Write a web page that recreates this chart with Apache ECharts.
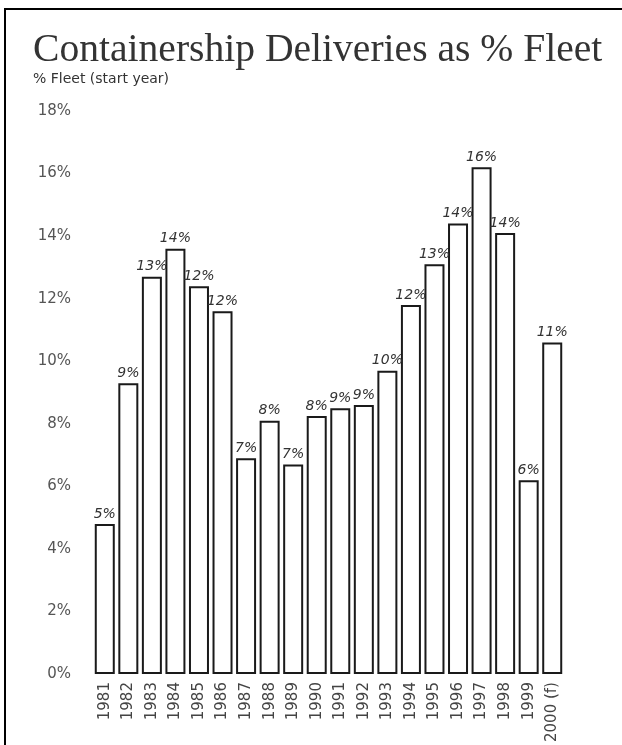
<!DOCTYPE html>
<html>
<head>
<meta charset="utf-8">
<script src="https://cdn.jsdelivr.net/npm/echarts@6/dist/echarts.min.js"></script>
<style>html,body{margin:0;padding:0;background:#fff}#c{width:622px;height:745px}</style>
</head>
<body>
<div id="c"></div>
<script>
var years = ['1981','1982','1983','1984','1985','1986','1987','1988','1989','1990','1991','1992','1993','1994','1995','1996','1997','1998','1999','2000 (f)'];
var values = [4.8, 9.3, 12.7, 13.6, 12.4, 11.6, 6.9, 8.1, 6.7, 8.25, 8.5, 8.6, 9.7, 11.8, 13.1, 14.4, 16.2, 14.1, 6.2, 10.6];
var labels = ['5%','9%','13%','14%','12%','12%','7%','8%','7%','8%','9%','9%','10%','12%','13%','14%','16%','14%','6%','11%'];
var yTicks = ['0%','2%','4%','6%','8%','10%','12%','14%','16%','18%'];

var chart = echarts.init(document.getElementById('c'));
chart.setOption({
  backgroundColor: '#fff',
  animation: false,
  title: [{
    text: 'Containership Deliveries as % Fleet',
    left: 33, top: 31, padding: 0,
    textStyle: {fontFamily: 'Liberation Serif', fontSize: 39.6, fontWeight: 'normal', color: '#333'}
  }, {
    text: '% Fleet (start year)',
    left: 33, top: 72, padding: 0,
    textStyle: {fontFamily: 'DejaVu Sans', fontSize: 14, fontWeight: 'normal', color: '#333'}
  }],
  graphic: [{
    type: 'rect',
    shape: {x: 5, y: 9, width: 700, height: 800},
    style: {fill: 'none', stroke: '#000', lineWidth: 2},
    silent: true
  }],
  grid: {left: 93, right: 58, top: 111, bottom: 70, containLabel: false},
  xAxis: {
    type: 'category',
    data: years,
    axisLine: {show: false},
    axisTick: {show: false},
    axisLabel: {
      rotate: 90, interval: 0, margin: 8,
      fontFamily: 'DejaVu Sans', fontSize: 15, color: '#444'
    }
  },
  yAxis: {
    type: 'value',
    min: 0, max: 18, interval: 2,
    axisLine: {show: false},
    axisTick: {show: false},
    splitLine: {show: false},
    axisLabel: {
      margin: 22,
      fontFamily: 'DejaVu Sans', fontSize: 15, color: '#555',
      formatter: function (v) { return yTicks[Math.round(v / 2)]; }
    }
  },
  series: [{
    type: 'bar',
    data: values,
    barWidth: 20,
    itemStyle: {
      color: '#fff',
      borderColor: '#1a1a1a',
      borderWidth: 2
    },
    label: {
      show: true,
      position: 'top',
      distance: 3,
      fontFamily: 'DejaVu Sans',
      fontStyle: 'italic',
      fontSize: 14,
      color: '#333',
      formatter: function (p) { return labels[p.dataIndex]; }
    }
  }]
});
</script>
</body>
</html>
